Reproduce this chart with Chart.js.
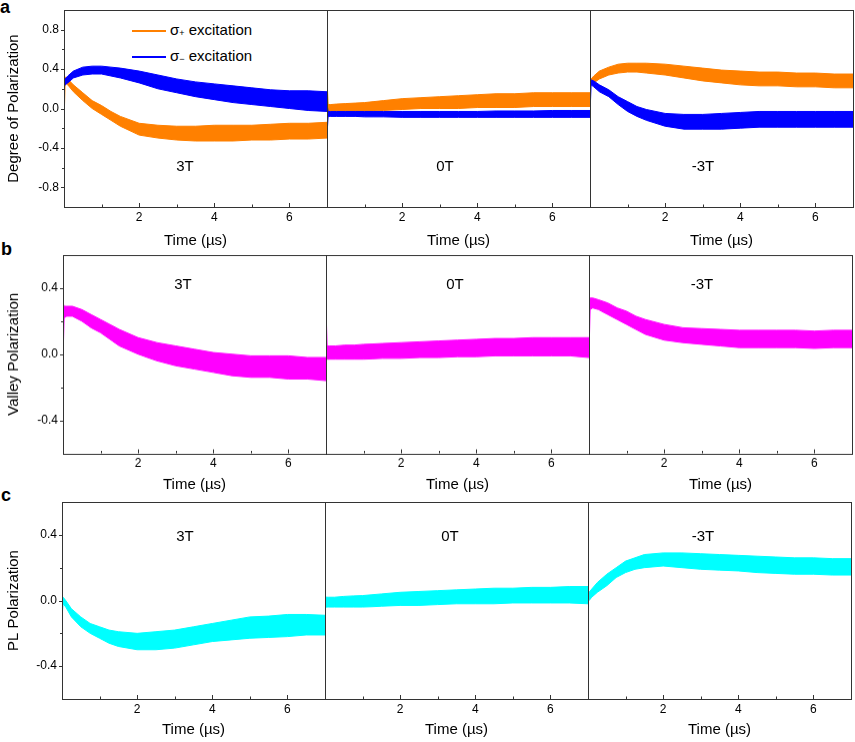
<!DOCTYPE html>
<html><head><meta charset="utf-8">
<script src="https://cdn.jsdelivr.net/npm/chart.js@4/dist/chart.umd.min.js"></script>
<style>
html,body{margin:0;padding:0;background:#fff}
body{width:855px;height:742px;position:relative;overflow:hidden;font-family:"Liberation Sans",Arial,sans-serif;color:#000}
canvas{position:absolute}
.txt{position:absolute;font-size:15px;line-height:15px;white-space:nowrap}
.ann{position:absolute;width:60px;text-align:center;font-size:15px;line-height:15px}
.lab{position:absolute;font-weight:bold;font-size:18px;line-height:18px}
.sw{position:absolute;height:2px;width:34px}
.sub{font-size:9px;vertical-align:-1px}
</style></head><body>
<div class="lab" style="left:0px;top:-2px">a</div>
<div class="lab" style="left:1px;top:240px">b</div>
<div class="lab" style="left:1px;top:486px">c</div>
<div class="sw" style="left:132px;top:30px;background:#FF8000"></div>
<div class="txt" style="left:170px;top:22px">σ<span class="sub">+</span> excitation</div>
<div class="sw" style="left:132px;top:56px;background:#0000FF"></div>
<div class="txt" style="left:170px;top:48px">σ<span class="sub">−</span> excitation</div>
<script>
// ---------------- data ----------------
const timeUs = [0, 0.03, 0.1, 0.25, 0.5, 0.75, 1, 1.25, 1.5, 2, 2.5, 3, 3.5, 4, 4.5, 5, 5.5, 6, 6.5, 7];
const fieldLabels = ['3T', '0T', '-3T'];
const legendLabels = ['σ+ excitation', 'σ− excitation'];
const xTickLabels = ['2', '4', '6'];
const yTickLabelsA = ['-0.8', '-0.4', '0.0', '0.4', '0.8'];
const yTickLabelsBC = ['-0.4', '0.0', '0.4'];

// (a) degree of polarization: upper / lower edge of the noisy band
const sigmaPlusHi_3T  = [0.30,0.32,0.30,0.24,0.16,0.08,0.03,-0.03,-0.08,-0.15,-0.17,-0.18,-0.18,-0.17,-0.17,-0.17,-0.16,-0.15,-0.15,-0.14];
const sigmaPlusLo_3T  = [-0.15,0.26,0.24,0.17,0.08,0.00,-0.06,-0.12,-0.18,-0.27,-0.30,-0.32,-0.33,-0.33,-0.33,-0.32,-0.32,-0.31,-0.31,-0.30];
const sigmaMinusHi_3T = [0.28,0.30,0.33,0.38,0.42,0.43,0.43,0.42,0.41,0.38,0.34,0.30,0.27,0.25,0.23,0.21,0.19,0.18,0.18,0.17];
const sigmaMinusLo_3T = [0.22,0.24,0.26,0.31,0.34,0.35,0.35,0.33,0.31,0.26,0.20,0.16,0.12,0.09,0.06,0.04,0.02,0.00,-0.02,-0.03];

const sigmaPlusHi_0T  = [0.30,0.04,0.04,0.045,0.05,0.055,0.06,0.07,0.08,0.10,0.11,0.12,0.13,0.14,0.15,0.15,0.16,0.16,0.16,0.16];
const sigmaPlusLo_0T  = [-0.05,-0.03,-0.03,-0.03,-0.03,-0.03,-0.03,-0.025,-0.02,-0.01,0.00,0.00,0.00,0.01,0.01,0.01,0.02,0.02,0.02,0.02];
const sigmaMinusHi_0T = [0.05,-0.03,-0.03,-0.03,-0.03,-0.03,-0.03,-0.03,-0.03,-0.03,-0.03,-0.03,-0.03,-0.03,-0.025,-0.025,-0.025,-0.02,-0.02,-0.02];
const sigmaMinusLo_0T = [-0.27,-0.08,-0.08,-0.08,-0.08,-0.08,-0.085,-0.085,-0.085,-0.09,-0.09,-0.09,-0.09,-0.09,-0.09,-0.09,-0.09,-0.09,-0.09,-0.09];

const sigmaPlusHi_m3T  = [0.30,0.30,0.33,0.38,0.42,0.45,0.46,0.46,0.46,0.45,0.43,0.41,0.39,0.38,0.37,0.37,0.36,0.36,0.35,0.35];
const sigmaPlusLo_m3T  = [0.22,0.24,0.26,0.30,0.34,0.36,0.37,0.37,0.36,0.34,0.31,0.28,0.26,0.24,0.23,0.23,0.22,0.22,0.21,0.21];
const sigmaMinusHi_m3T = [0.28,0.29,0.28,0.24,0.19,0.12,0.07,0.02,-0.01,-0.05,-0.06,-0.06,-0.05,-0.04,-0.03,-0.03,-0.03,-0.03,-0.03,-0.03];
const sigmaMinusLo_m3T = [-0.05,0.24,0.22,0.17,0.12,0.04,-0.03,-0.08,-0.12,-0.18,-0.21,-0.21,-0.21,-0.20,-0.19,-0.19,-0.19,-0.19,-0.19,-0.19];

// (b) valley polarization
const valleyHi_3T  = [0.31,0.29,0.29,0.29,0.27,0.24,0.21,0.18,0.15,0.10,0.07,0.05,0.03,0.01,0.00,-0.01,-0.01,-0.01,-0.02,-0.02];
const valleyLo_3T  = [-0.03,0.22,0.23,0.23,0.20,0.16,0.13,0.09,0.05,0.00,-0.04,-0.07,-0.09,-0.11,-0.13,-0.14,-0.14,-0.15,-0.15,-0.16];
const valleyHi_0T  = [0.28,0.05,0.05,0.05,0.055,0.055,0.06,0.062,0.065,0.07,0.075,0.08,0.085,0.09,0.095,0.095,0.10,0.10,0.10,0.10];
const valleyLo_0T  = [-0.03,-0.03,-0.03,-0.03,-0.03,-0.03,-0.03,-0.028,-0.025,-0.025,-0.02,-0.02,-0.015,-0.015,-0.01,-0.01,-0.01,-0.01,-0.01,-0.02];
const valleyHi_m3T = [0.34,0.34,0.34,0.33,0.31,0.28,0.26,0.23,0.21,0.18,0.16,0.155,0.15,0.145,0.145,0.145,0.145,0.14,0.145,0.145];
const valleyLo_m3T = [0.00,0.27,0.28,0.27,0.24,0.21,0.18,0.15,0.12,0.085,0.07,0.06,0.05,0.04,0.04,0.04,0.04,0.035,0.04,0.04];

// (c) PL polarization
const plHi_3T  = [0.02,0.02,0.00,-0.05,-0.10,-0.14,-0.16,-0.18,-0.19,-0.20,-0.19,-0.18,-0.16,-0.14,-0.12,-0.10,-0.095,-0.085,-0.085,-0.09];
const plLo_3T  = [-0.10,-0.02,-0.04,-0.10,-0.16,-0.20,-0.23,-0.26,-0.28,-0.30,-0.30,-0.29,-0.27,-0.25,-0.24,-0.23,-0.225,-0.22,-0.21,-0.21];
const plHi_0T  = [0.03,0.02,0.02,0.02,0.025,0.028,0.03,0.035,0.04,0.05,0.055,0.06,0.065,0.07,0.075,0.075,0.08,0.08,0.085,0.085];
const plLo_0T  = [-0.05,-0.04,-0.04,-0.04,-0.04,-0.04,-0.04,-0.038,-0.035,-0.03,-0.03,-0.025,-0.02,-0.02,-0.02,-0.015,-0.015,-0.015,-0.015,-0.02];
const plHi_m3T = [0.06,0.05,0.07,0.11,0.16,0.20,0.24,0.26,0.28,0.29,0.29,0.285,0.28,0.275,0.27,0.265,0.26,0.26,0.255,0.255];
const plLo_m3T = [0.00,0.00,0.02,0.05,0.09,0.14,0.17,0.19,0.20,0.21,0.20,0.19,0.185,0.18,0.17,0.165,0.16,0.16,0.155,0.155];

// ---------------- styling / layout ----------------
const ORANGE = '#FF8000', BLUE = '#0000FF', MAGENTA = '#FF00FF', CYAN = '#00FFFF';
const FONT = '"Liberation Sans", Arial, sans-serif';
Chart.defaults.font.family = FONT;
Chart.defaults.color = '#000';

const rowSeries = [
  [
    [{hi: sigmaPlusHi_3T, lo: sigmaPlusLo_3T, color: ORANGE, order: 2}, {hi: sigmaMinusHi_3T, lo: sigmaMinusLo_3T, color: BLUE, order: 1}],
    [{hi: sigmaPlusHi_0T, lo: sigmaPlusLo_0T, color: ORANGE, order: 2}, {hi: sigmaMinusHi_0T, lo: sigmaMinusLo_0T, color: BLUE, order: 1}],
    [{hi: sigmaPlusHi_m3T, lo: sigmaPlusLo_m3T, color: ORANGE, order: 2}, {hi: sigmaMinusHi_m3T, lo: sigmaMinusLo_m3T, color: BLUE, order: 1}]
  ],
  [
    [{hi: valleyHi_3T, lo: valleyLo_3T, color: MAGENTA, order: 1}],
    [{hi: valleyHi_0T, lo: valleyLo_0T, color: MAGENTA, order: 1}],
    [{hi: valleyHi_m3T, lo: valleyLo_m3T, color: MAGENTA, order: 1}]
  ],
  [
    [{hi: plHi_3T, lo: plLo_3T, color: CYAN, order: 1}],
    [{hi: plHi_0T, lo: plLo_0T, color: CYAN, order: 1}],
    [{hi: plHi_m3T, lo: plLo_m3T, color: CYAN, order: 1}]
  ]
];

const rows = [
  {top: 10,  bottom: 207, left: 64, yMin: -1,   yMax: 1,   yTitle: 'Degree of Polarization', yLabels: yTickLabelsA,  titleGap: 34,   annY: 158},
  {top: 255, bottom: 453, left: 63, yMin: -0.6, yMax: 0.6, yTitle: 'Valley Polarization',    yLabels: yTickLabelsBC, titleGap: 31.5, annY: 276},
  {top: 502, bottom: 699, left: 62, yMin: -0.6, yMax: 0.6, yTitle: 'PL Polarization',        yLabels: yTickLabelsBC, titleGap: 31,   annY: 528}
];
const annX = [[185, 445, 703], [183, 455, 702], [185, 450, 703]];
const PANEL_W = 263;

function fmt(v) { return Math.abs(v) < 1e-9 ? '0.0' : v.toFixed(1); }
function isMultiple(v, s) { return Math.abs(Math.round(v / s) * s - v) < 1e-6; }

const framePlugin = {
  id: 'frameTicks',
  afterDraw(chart) {
    const {ctx, chartArea: a, scales} = chart;
    const x = scales.x, y = scales.y;
    ctx.save();
    ctx.strokeStyle = '#333';
    ctx.lineWidth = 1;
    ctx.beginPath();
    x.ticks.forEach(t => {
      const v = t.value;
      if (v <= 0 || v >= 7) return;
      const px = Math.round(x.getPixelForValue(v)) + 0.5;
      const len = isMultiple(v, 2) ? 4 : 2.5;
      ctx.moveTo(px, a.bottom);
      ctx.lineTo(px, a.bottom - len);
    });
    if (chart.options.scales.y.display) {
      y.ticks.forEach(t => {
        const v = t.value;
        if (v <= y.min + 1e-6 || v >= y.max - 1e-6) return;
        const py = Math.round(y.getPixelForValue(v)) + 0.5;
        const len = isMultiple(v, 0.4) ? 3 : 2;
        ctx.moveTo(a.left, py);
        ctx.lineTo(a.left - len, py);
      });
    }
    ctx.stroke();
    ctx.strokeRect(Math.round(a.left) + 0.5, Math.round(a.top) + 0.5, Math.round(a.right - a.left), Math.round(a.bottom - a.top));
    ctx.restore();
  }
};

rows.forEach((row, r) => {
  for (let p = 0; p < 3; p++) {
    const padT = 4, padR = 3, padL = 3;
    const xH = row.titleGap + 9;
    const plotLeft = row.left + p * PANEL_W;
    const cLeft = p === 0 ? 0 : plotLeft - padL;
    const cTop = row.top - padT;
    const cW = (p === 0 ? plotLeft : padL) + PANEL_W + padR;
    const cH = padT + (row.bottom - row.top) + xH;
    const cv = document.createElement('canvas');
    cv.width = cW; cv.height = cH;
    cv.style.left = cLeft + 'px'; cv.style.top = cTop + 'px';
    cv.style.width = cW + 'px'; cv.style.height = cH + 'px';
    document.body.appendChild(cv);

    const datasets = [];
    rowSeries[r][p].forEach(s => {
      datasets.push({
        data: s.hi.map((v, i) => ({x: timeUs[i], y: v})),
        borderColor: s.color, backgroundColor: s.color, borderWidth: 1,
        pointRadius: 0, tension: 0, fill: '+1', order: s.order
      });
      datasets.push({
        data: s.lo.map((v, i) => ({x: timeUs[i], y: v})),
        borderColor: s.color, backgroundColor: s.color, borderWidth: 1,
        pointRadius: 0, tension: 0, fill: false, order: s.order
      });
    });

    const yScale = {
      type: 'linear', min: row.yMin, max: row.yMax, display: p === 0,
      grid: {display: false, drawTicks: false}, border: {display: false},
      ticks: {
        stepSize: 0.2, autoSkip: false, padding: 5,
        font: {size: 12, family: FONT}, color: '#000',
        callback: v => { const s = fmt(v); return row.yLabels.includes(s) ? s : ''; }
      },
      title: {display: true, text: row.yTitle, font: {size: 15, family: FONT}, color: '#000', padding: {top: 4.5, bottom: 0}}
    };
    if (p === 0) yScale.afterFit = sc => { sc.width = plotLeft; sc.paddingTop = 0; sc.paddingBottom = 0; };

    new Chart(cv, {
      type: 'line',
      data: {datasets},
      plugins: [framePlugin],
      options: {
        responsive: false, animation: false, devicePixelRatio: 1,
        layout: {padding: {top: padT, right: padR, left: p === 0 ? 0 : padL, bottom: 0}},
        plugins: {legend: {display: false}, tooltip: {enabled: false}},
        scales: {
          x: {
            type: 'linear', min: 0, max: 7,
            grid: {display: false, drawTicks: false}, border: {display: false},
            ticks: {
              stepSize: 1, autoSkip: false, maxRotation: 0, padding: 3,
              font: {size: 12, family: FONT}, color: '#000',
              callback: v => { const s = String(Math.round(v)); return xTickLabels.includes(s) && isMultiple(v, 1) ? s : ''; }
            },
            title: {display: true, text: 'Time (µs)', font: {size: 15, family: FONT}, color: '#000', padding: {top: 0, bottom: 0}},
            afterFit: sc => { sc.height = xH; sc.paddingLeft = 0; sc.paddingRight = 0; }
          },
          y: yScale
        }
      }
    });

    const ann = document.createElement('div');
    ann.className = 'ann';
    ann.textContent = fieldLabels[p];
    ann.style.left = (annX[r][p] - 30) + 'px';
    ann.style.top = row.annY + 'px';
    document.body.appendChild(ann);
  }
});
</script>
</body></html>
